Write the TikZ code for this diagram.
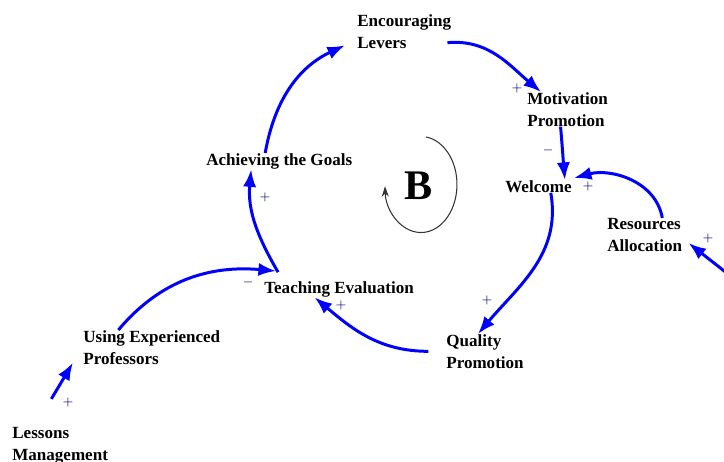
\documentclass[tikz,border=0pt]{standalone}
\usepackage{fontspec}
\setmainfont{Liberation Serif}
\usetikzlibrary{arrows.meta}
\begin{document}
\begin{tikzpicture}[x=0.02cm,y=-0.02cm,
  var/.style={anchor=north west,align=left,inner sep=0pt,font=\fontsize{9.7}{12.5}\selectfont\bfseries},
  link/.style={blue,line width=1.7pt,-{Latex[length=10pt,width=7.5pt]}},
  sign/.style={blue!50!black,font=\scriptsize,inner sep=0pt}]
\useasboundingbox (0,0) rectangle (724,462);
% variables
\node[var] (enc) at (357,14) {Encouraging\\Levers};
\node[var] (mot) at (527,92) {Motivation\\Promotion};
\node[var] (wel) at (505,180) {Welcome};
\node[var] (res) at (607,218) {Resources\\Allocation};
\node[var] (ach) at (206,153) {Achieving the Goals};
\node[var] (tea) at (264,281) {Teaching Evaluation};
\node[var] (qua) at (446,334) {Quality\\Promotion};
\node[var] (use) at (83,330) {Using Experienced\\Professors};
\node[var] (les) at (12,427) {Lessons\\Management};
\coordinate (ext) at (728,274);
% loop marker
\node[font=\fontsize{24}{24}\selectfont\bfseries,inner sep=0pt] (bee) at (419,186) {B};
\draw[black!80,semithick,-{Stealth[length=6pt,width=4pt]}] (426,137) arc[start angle=-82,end angle=178,x radius=36,y radius=48];
% links
\draw[link] ([shift={(-4,-6)}]enc.south east) to[out=5,in=140] ([xshift=8pt]mot.north west);
\draw[link] ([xshift=-4pt]mot.south) to[out=-85,in=95] ([xshift=-4pt]wel.north east);
\draw[link] ([xshift=10pt]res.north) to[out=100,in=15] ([shift={(2,-2)}]wel.north east);
\draw[link] (ext) -- ([shift={(6,8)}]res.east);
\draw[link] ([xshift=7pt]wel.south) to[out=-80,in=50] ([xshift=-4pt]qua.north);
\draw[link] ([xshift=-10pt]qua.west) to[out=180,in=-40] ([xshift=-14pt]tea.south);
\draw[link] ([xshift=8pt,yshift=5pt]tea.north west) to[out=120,in=-95] ([xshift=-16pt]ach.south);
\draw[link] ([xshift=-8pt]ach.north) to[out=80,in=205] ([shift={(-12,14)}]enc.west);
\draw[link] ([xshift=-19pt]use.north) to[out=50,in=175] ([shift={(12,-10)}]tea.north west);
\draw[link] ([xshift=-5pt,yshift=16pt]les.north) -- ([shift={(-10,-2)}]use.south west);
% polarities
\foreach \x/\y/\s [count=\i] in {517/88/+,548/150/-,588/186/+,708/238/+,265/197/+,248/282/-,341/305/+,487/300/+,68/402/+} {
  \node[sign] (p\i) at (\x,\y) {$\s$};
}
\end{tikzpicture}
\end{document}
